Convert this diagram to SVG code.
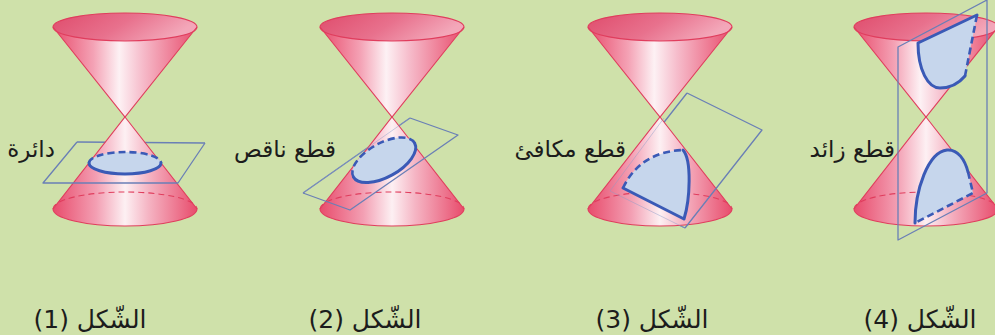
<svg xmlns="http://www.w3.org/2000/svg" xmlns:xlink="http://www.w3.org/1999/xlink" width="995" height="335" viewBox="0 0 995 335">
  <defs>
    <!-- shading of the cone surfaces -->
    <linearGradient id="bodyTop" x1="0" y1="0" x2="1" y2="0">
      <stop offset="0" stop-color="#e84c6c"/>
      <stop offset="0.28" stop-color="#f4a2b5"/>
      <stop offset="0.46" stop-color="#fdf1f4"/>
      <stop offset="0.62" stop-color="#f6bccb"/>
      <stop offset="1" stop-color="#e84c6c"/>
    </linearGradient>
    <linearGradient id="bodyBot" x1="0" y1="0" x2="1" y2="0">
      <stop offset="0" stop-color="#e84c6c"/>
      <stop offset="0.3" stop-color="#f39fb3"/>
      <stop offset="0.5" stop-color="#fdf0f3"/>
      <stop offset="0.66" stop-color="#f5b5c4"/>
      <stop offset="1" stop-color="#e84c6c"/>
    </linearGradient>
    <linearGradient id="rim" x1="0" y1="0" x2="1" y2="0.3">
      <stop offset="0" stop-color="#df4c6c"/>
      <stop offset="0.55" stop-color="#e8718d"/>
      <stop offset="1" stop-color="#f3a7b9"/>
    </linearGradient>

    <!-- double cone, axis at x = 0, apex at y = 117 -->
    <g id="cone">
      <path d="M-72,27 L0,117 L72,27 Z" fill="url(#bodyTop)"/>
      <ellipse cx="0" cy="27" rx="72" ry="14" fill="url(#rim)" class="edge"/>
      <path d="M-72,27 L0,117 L72,27" class="edge line"/>
      <path d="M0,117 L72,209 A72 17 0 0 1 -72,209 Z" fill="url(#bodyBot)" class="edge"/>
      <path d="M-72,209 A72 17 0 0 1 72,209" class="edge hidden"/>
    </g>

    <style>
      .edge { stroke: #e03d5d; stroke-width: 1.1; }
      .line { fill: none; }
      .hidden { stroke-dasharray: 6 4; fill: none; }
      .plane { fill: none; stroke: #6a7fb6; stroke-width: 1.3; stroke-linejoin: round; }
      .plane-faint { fill: none; stroke: #8a9cc8; stroke-width: 1; opacity: 0.45; }
      .cut { fill: #c6d6ec; stroke: none; }
      .cut-front { fill: none; stroke: #3a5ab6; stroke-width: 3; stroke-linejoin: round; stroke-linecap: round; }
      .cut-back { fill: none; stroke: #3a5ab6; stroke-width: 2.6; stroke-dasharray: 7 4; }
      .label { font-family: "DejaVu Sans", "Noto Sans", sans-serif; font-size: 23px; fill: #1c1c1c; }
      .caption { font-family: "DejaVu Sans", "Noto Sans", sans-serif; font-size: 25px; fill: #1c1c1c; }
    </style>
  </defs>

  <rect x="0" y="0" width="995" height="335" fill="#cfe1aa"/>

  <!-- circle: horizontal plane -->
  <g id="figure-1">
    <line class="plane" x1="77" y1="142" x2="205" y2="143"/>
    <use xlink:href="#cone" href="#cone" x="125"/>
    <ellipse class="cut" cx="125" cy="163" rx="36" ry="11"/>
    <path class="cut-back" d="M89,163 A36 11 0 0 1 161,163"/>
    <path class="cut-front" d="M161,163 A36 11 0 0 1 89,163"/>
    <polyline class="plane" points="205,143 178,183 43,183 77,142"/>
    <text class="label" x="55" y="157" text-anchor="end">دائرة</text>
    <text class="caption" x="90" y="328" text-anchor="middle">الشّكل (1)</text>
  </g>

  <!-- ellipse: tilted plane -->
  <g id="figure-2">
    <line class="plane" x1="303" y1="193" x2="410" y2="118"/>
    <use xlink:href="#cone" href="#cone" x="392"/>
    <line class="plane-faint" x1="303" y1="193" x2="410" y2="118"/>
    <g transform="translate(384,160) rotate(-29)">
      <ellipse class="cut" cx="0" cy="0" rx="35" ry="17"/>
      <path class="cut-back" d="M-35,0 A35 17 0 0 1 35,0"/>
      <path class="cut-front" d="M35,0 A35 17 0 0 1 -35,0"/>
    </g>
    <polyline class="plane" points="410,118 458,135 350,210 303,193"/>
    <text class="label" x="336" y="157" text-anchor="end">قطع ناقص</text>
    <text class="caption" x="365" y="328" text-anchor="middle">الشّكل (2)</text>
  </g>

  <!-- parabola: plane parallel to a generator -->
  <g id="figure-3">
    <polyline class="plane" points="687,93 610,191 685,228"/>
    <use xlink:href="#cone" href="#cone" x="660"/>
    <polyline class="plane-faint" points="664,118 610,191 685,228"/>
    <path class="cut" d="M623,188 Q640,152 683,150 C692,160 690,200 684,219 Z"/>
    <path class="cut-back" d="M623,188 Q640,152 683,150"/>
    <path class="cut-front" d="M683,150 C692,160 690,200 684,219 L623,188"/>
    <polyline class="plane" points="687,93 762,130 685,228"/>
    <text class="label" x="626" y="157" text-anchor="end">قطع مكافئ</text>
    <text class="caption" x="652" y="328" text-anchor="middle">الشّكل (3)</text>
  </g>

  <!-- hyperbola: vertical plane -->
  <g id="figure-4">
    <use xlink:href="#cone" href="#cone" x="926"/>
    <path class="cut" d="M918,43 C918,70 928,88 940,88 C952,88 960,82 965,76 L977,15 Z"/>
    <path class="cut-back" d="M965,76 L977,15"/>
    <path class="cut-front" d="M977,15 L918,43 C918,70 928,88 940,88 C952,88 960,82 965,76"/>
    <path class="cut" d="M915,223 C915,190 928,152 947,150 C958,149 965,160 968,172 L973,193 Z"/>
    <path class="cut-back" d="M968,172 L973,193 L915,223"/>
    <path class="cut-front" d="M915,223 C915,190 928,152 947,150 C958,149 965,160 968,172"/>
    <polygon class="plane" points="898,47 987,0 987,193 898,240"/>
    <text class="label" x="895" y="157" text-anchor="end">قطع زائد</text>
    <text class="caption" x="920" y="328" text-anchor="middle">الشّكل (4)</text>
  </g>
</svg>
